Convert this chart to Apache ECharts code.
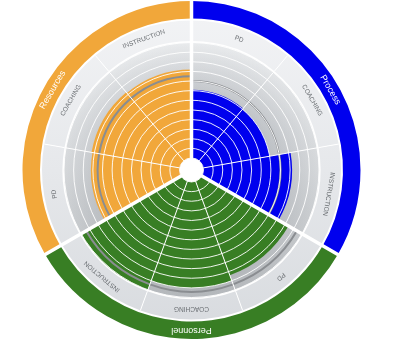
<!DOCTYPE html>
<html><head><meta charset="utf-8">
<script src="https://cdn.jsdelivr.net/npm/echarts@6/dist/echarts.min.js"></script>
<style>html,body{margin:0;padding:0;background:#fff}#c{width:400px;height:345px}</style>
</head><body><div id="c"></div>
<script>
// ---- data ----
var groups = ['Process', 'Personnel', 'Resources'];
var groupColors = ['#0000ee', '#387e24', '#f1a73a'];
var categories = ['PD', 'COACHING', 'INSTRUCTION'];
var processValues = [7.1, 7.0, 9.2];
var personnelValues = [10.4, 11.0, 12];
var resourcesValues = [9.2, 9.3, 9.2];
var targetValues = [8.0, 11.4, 8.5];
var scaleMax = 12;
var ringInterval = 1;

// ---- build ----
var groupValues = [processValues, personnelValues, resourcesValues];
var angleCats = [], fillData = [], bgData = [], bandData = [], labelData = [], targetData = [];
groups.forEach(function (g, gi) {
  categories.forEach(function (c, ci) {
    var idx = gi * 3 + ci;
    angleCats.push(g + ' ' + c);
    fillData.push({ value: groupValues[gi][ci], itemStyle: { color: groupColors[gi] } });
    bgData.push(scaleMax);
    bandData.push(1);
    labelData.push([0.5, idx]);
    targetData.push([targetValues[gi], idx]);
  });
});
var groupBand = groups.map(function (g, gi) { return { value: 1, itemStyle: { color: groupColors[gi] } }; });
var groupLabelData = groups.map(function (g, gi) { return [0.5, gi]; });

var C = [191.5, 170];
var chart = echarts.init(document.getElementById('c'), null, { renderer: 'canvas' });

function hidden(extra) {
  var o = { axisLine: { show: false }, axisTick: { show: false }, axisLabel: { show: false }, splitLine: { show: false }, splitArea: { show: false } };
  for (var k in extra) o[k] = extra[k];
  return o;
}
function angleAx(pi, data, split) {
  return hidden({ polarIndex: pi, type: 'category', data: data, startAngle: 90, clockwise: true, boundaryGap: true,
    axisLabel: { show: false, interval: 0 }, splitLine: split, z: split.show ? (split.lineStyle.width > 2 ? 10 : 5) : 0 });
}
function textRender(texts, font, color) {
  return function (params, api) {
    var cs = params.coordSys;
    var p = api.coord([api.value(0), api.value(1)]);
    var phi = Math.atan2(p[0] - cs.cx, -(p[1] - cs.cy));
    return { type: 'text', x: p[0], y: p[1], rotation: -phi,
      style: { text: texts(params.dataIndex), fill: color, font: font, align: 'center', verticalAlign: 'middle' } };
  };
}

var option = {
  animation: false,
  polar: [
    { center: C, radius: [12, 127.5] },
    { center: C, radius: [129, 149.5] },
    { center: C, radius: [151.5, 169] },
    { center: C, radius: [0, 170] }
  ],
  angleAxis: [
    angleAx(0, angleCats, { show: true, interval: 0, lineStyle: { color: '#ffffff', width: 1 } }),
    angleAx(1, angleCats, { show: true, interval: 0, lineStyle: { color: '#ffffff', width: 1 } }),
    angleAx(2, groups, { show: false }),
    angleAx(3, groups, { show: true, interval: 0, lineStyle: { color: '#ffffff', width: 3.5 } })
  ],
  radiusAxis: [
    hidden({ polarIndex: 0, type: 'value', min: 0, max: scaleMax, interval: ringInterval,
      splitLine: { show: true, lineStyle: { color: 'rgba(255,255,255,0.9)', width: 1 } }, z: 5 }),
    hidden({ polarIndex: 1, type: 'value', min: 0, max: 1 }),
    hidden({ polarIndex: 2, type: 'value', min: 0, max: 1 }),
    hidden({ polarIndex: 3, type: 'value', min: 0, max: 1 })
  ],
  series: [
    { type: 'bar', coordinateSystem: 'polar', polarIndex: 0, data: bgData, barCategoryGap: '0%', barGap: '-100%', silent: true, z: 1,
      itemStyle: { color: { type: 'radial', x: C[0], y: C[1], r: 127.5, global: true,
        colorStops: [{ offset: 0, color: '#bcc0c4' }, { offset: 0.6, color: '#c9ccd0' }, { offset: 1, color: '#e9ebed' }] } } },
    { type: 'bar', coordinateSystem: 'polar', polarIndex: 0, data: bgData, barCategoryGap: '0%', barGap: '-100%', silent: true, z: 1,
      itemStyle: { color: { type: 'linear', x: 0, y: C[1] - 127.5, x2: 0, y2: C[1] + 127.5, global: true,
        colorStops: [{ offset: 0, color: 'rgba(40,48,56,0)' }, { offset: 0.5, color: 'rgba(40,48,56,0.1)' }, { offset: 1, color: 'rgba(40,48,56,0.27)' }] } } },
    { type: 'bar', coordinateSystem: 'polar', polarIndex: 0, data: fillData, barCategoryGap: '0%', barGap: '-100%', z: 2 },
    { type: 'custom', coordinateSystem: 'polar', polarIndex: 0, data: targetData, z: 4,
      renderItem: function (params, api) {
        var cs = params.coordSys;
        var p = api.coord([api.value(0), api.value(1)]);
        var dx = p[0] - cs.cx, dy = p[1] - cs.cy;
        var rad = Math.sqrt(dx * dx + dy * dy);
        var mid = Math.atan2(dy, dx);
        var half = Math.PI / angleCats.length;
        return { type: 'arc', shape: { cx: cs.cx, cy: cs.cy, r: rad, startAngle: mid - half, endAngle: mid + half, clockwise: true },
          style: { stroke: '#8a8d91', lineWidth: 2, fill: 'none' } };
      } },
    { type: 'bar', coordinateSystem: 'polar', polarIndex: 1, data: bandData, barCategoryGap: '0%', silent: true, z: 1,
      itemStyle: { color: { type: 'linear', x: 0, y: 0, x2: 0, y2: 340, global: true,
        colorStops: [{ offset: 0, color: '#f3f4f6' }, { offset: 0.5, color: '#e6e8eb' }, { offset: 1, color: '#d7dade' }] } } },
    { type: 'custom', coordinateSystem: 'polar', polarIndex: 1, data: labelData, z: 6,
      renderItem: textRender(function (i) { return categories[i % categories.length]; }, '6.5px "Liberation Sans", Arial, sans-serif', '#6a6e72') },
    { type: 'bar', coordinateSystem: 'polar', polarIndex: 2, data: groupBand, barCategoryGap: '0%', silent: true, z: 1 },
    { type: 'custom', coordinateSystem: 'polar', polarIndex: 2, data: groupLabelData, z: 6,
      renderItem: textRender(function (i) { return groups[i]; }, '9px "Liberation Sans", Arial, sans-serif', '#ffffff') }
  ]
};
chart.setOption(option);
</script>
</body></html>
